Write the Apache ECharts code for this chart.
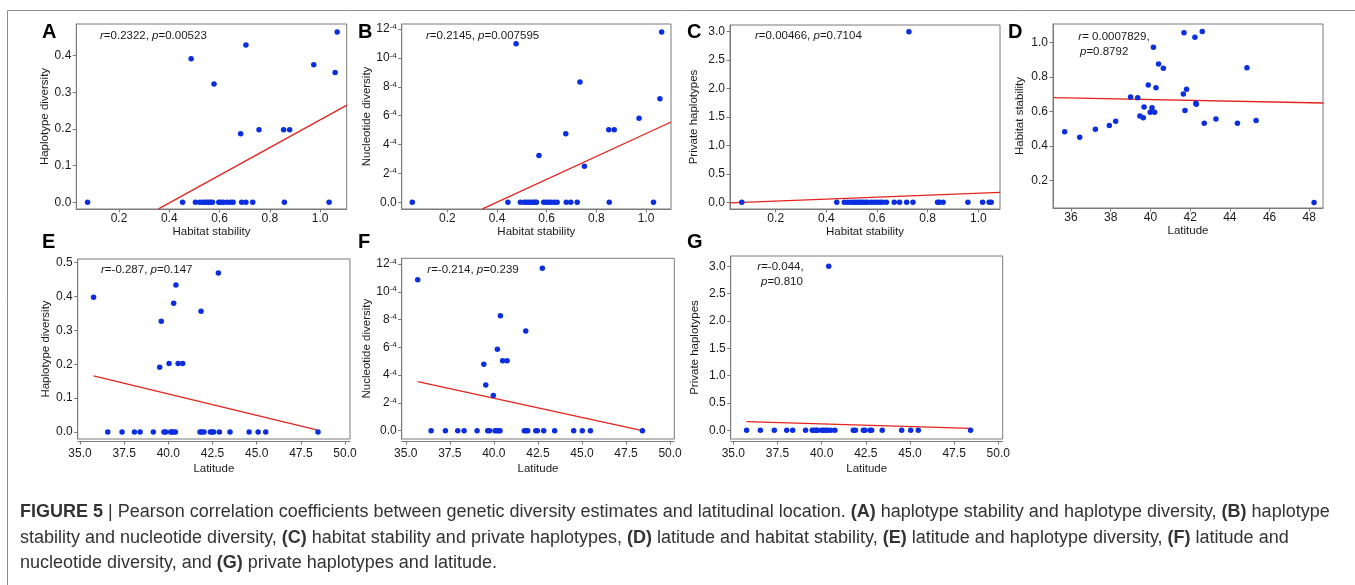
<!DOCTYPE html>
<html>
<head>
<meta charset="utf-8">
<script src="https://cdn.jsdelivr.net/npm/echarts@6/dist/echarts.min.js"></script>
<style>
  html, body { margin: 0; padding: 0; background: #fff; }
  #fig { width: 1355px; height: 585px; }
</style>
</head>
<body>
<div id="fig"></div>
<script>
// A: habitat stability vs haplotype diversity
const stabA = [0.075, 0.453, 0.487, 0.504, 0.521, 0.532, 0.541, 0.549, 0.557, 0.565, 0.572, 0.578, 0.597, 0.605, 0.615, 0.630, 0.644, 0.654, 0.684, 0.688, 0.705, 0.705, 0.732, 0.757, 0.855, 0.858, 0.879, 0.975, 1.036, 1.060, 1.068];
const hdA = [0, 0, 0.392, 0, 0, 0, 0, 0, 0, 0, 0, 0.323, 0, 0, 0, 0, 0, 0, 0.187, 0, 0.429, 0, 0, 0.198, 0.198, 0, 0.198, 0.375, 0, 0.354, 0.465];
const fitA = [[0.357, -0.018], [1.107, 0.265]];

// B: habitat stability vs nucleotide diversity (x 1e-4)
const stabB = [0.059, 0.444, 0.477, 0.494, 0.509, 0.519, 0.528, 0.538, 0.546, 0.554, 0.559, 0.569, 0.588, 0.597, 0.606, 0.618, 0.630, 0.642, 0.677, 0.679, 0.697, 0.723, 0.734, 0.752, 0.850, 0.852, 0.872, 0.972, 1.030, 1.056, 1.063];
const piB = [0, 0, 10.99, 0, 0, 0, 0, 0, 0, 0, 0, 3.25, 0, 0, 0, 0, 0, 0, 4.75, 0, 0, 0, 8.33, 2.49, 5.03, 0, 5.03, 5.82, 0, 7.18, 11.79];
const fitB = [[0.342, -0.46], [1.101, 5.56]];

// C: habitat stability vs private haplotypes
const stabC = [0.066, 0.441, 0.471, 0.484, 0.497, 0.508, 0.517, 0.526, 0.534, 0.543, 0.553, 0.562, 0.576, 0.588, 0.599, 0.612, 0.622, 0.637, 0.668, 0.689, 0.717, 0.726, 0.742, 0.839, 0.846, 0.861, 0.959, 1.017, 1.043, 1.051];
const privC = [0, 0, 0, 0, 0, 0, 0, 0, 0, 0, 0, 0, 0, 0, 0, 0, 0, 0, 0, 0, 0, 3.0, 0, 0, 0, 0, 0, 0, 0, 0];
const fitC = [[0.020, -0.012], [1.086, 0.176]];

// D: latitude vs habitat stability
const latD = [35.68, 36.44, 37.23, 37.93, 38.25, 39.00, 39.36, 39.47, 39.64, 39.68, 39.89, 39.99, 40.08, 40.15, 40.21, 40.28, 40.41, 40.65, 41.66, 41.69, 41.74, 41.82, 42.24, 42.29, 42.31, 42.61, 42.71, 43.30, 44.38, 44.86, 45.32, 48.24];
const stabD = [0.482, 0.449, 0.496, 0.517, 0.542, 0.683, 0.679, 0.573, 0.563, 0.625, 0.753, 0.594, 0.621, 0.971, 0.594, 0.737, 0.874, 0.849, 0.700, 1.056, 0.604, 0.728, 1.029, 0.646, 0.641, 1.062, 0.530, 0.556, 0.530, 0.853, 0.546, 0.071];
const fitD = [[35.11, 0.679], [48.71, 0.648]];

// E: latitude vs haplotype diversity
const latE = [35.77, 36.57, 37.38, 38.08, 38.40, 39.15, 39.51, 39.60, 39.75, 39.85, 40.04, 40.13, 40.21, 40.30, 40.30, 40.40, 40.43, 40.55, 40.81, 41.79, 41.85, 41.89, 42.02, 42.38, 42.47, 42.57, 42.83, 42.89, 43.49, 44.57, 45.08, 45.51, 48.47];
const hdE = [0.398, 0, 0, 0, 0, 0, 0.191, 0.327, 0, 0, 0.202, 0, 0, 0.380, 0, 0, 0.434, 0.202, 0.202, 0, 0.357, 0, 0, 0, 0, 0, 0.470, 0, 0, 0, 0, 0, 0];
const fitE = [[35.77, 0.166], [48.4, 0.006]];

// F: latitude vs nucleotide diversity (x 1e-4)
const latF = [35.68, 36.44, 37.25, 37.95, 38.31, 39.05, 39.43, 39.54, 39.65, 39.76, 39.97, 40.07, 40.16, 40.20, 40.26, 40.35, 40.37, 40.50, 40.75, 41.73, 41.81, 41.83, 41.92, 42.38, 42.47, 42.75, 42.83, 43.45, 44.53, 45.02, 45.48, 48.43];
const piF = [10.87, 0, 0, 0, 0, 0, 4.78, 3.29, 0, 0, 2.54, 0, 0, 5.86, 0, 0, 8.28, 5.04, 5.04, 0, 7.18, 0, 0, 0, 0, 11.69, 0, 0, 0, 0, 0, 0];
const fitF = [[35.68, 3.53], [48.43, 0.0]];

// G: latitude vs private haplotypes
const latG = [35.75, 36.53, 37.32, 38.02, 38.36, 39.09, 39.47, 39.58, 39.70, 39.77, 40.00, 40.11, 40.23, 40.34, 40.40, 40.53, 40.75, 41.79, 41.91, 42.36, 42.45, 42.74, 42.83, 43.43, 44.53, 45.04, 45.47, 48.43];
const privG = [0, 0, 0, 0, 0, 0, 0, 0, 0, 0, 0, 0, 0, 0, 3.0, 0, 0, 0, 0, 0, 0, 0, 0, 0, 0, 0, 0, 0];
const fitG = [[35.75, 0.159], [48.43, 0.037]];

// tick values
const ticksStab = [0.2, 0.4, 0.6, 0.8, 1.0];
const ticksLat5 = [35, 37.5, 40, 42.5, 45, 47.5, 50];
const ticksLatD = [36, 38, 40, 42, 44, 46, 48];
const ticksHdA = [0, 0.1, 0.2, 0.3, 0.4];
const ticksHdE = [0, 0.1, 0.2, 0.3, 0.4, 0.5];
const ticksPi = [0, 2, 4, 6, 8, 10, 12];
const ticksPriv = [0, 0.5, 1.0, 1.5, 2.0, 2.5, 3.0];
const ticksStabD = [0.2, 0.4, 0.6, 0.8, 1.0];

const FONT = "Liberation Sans";
const BOX = "#7a7a7a";
const DOT = "#0a2ee0";
const FIT = "#e3231c";

function zip(xs, ys) {
    return xs.map((x, i) => [x, ys[i]]);
}
const f1 = v => v.toFixed(1);
const f0 = v => String(v);
const fPi = v => (v === 0 ? "0.0" : v + "{s|-4}");

// layout of every panel, in pixels of the figure
const panels = [
    { tag: "A", box: [76.3, 24, 270.4, 185], xr: [0.030, 1.106], yr: [-0.0183, 0.4865],
      xt: ticksStab, yt: ticksHdA, xf: f1, yf: f1, xn: "Habitat stability", yn: "Haplotype diversity",
      yg: 25, xg: 17, pts: zip(stabA, hdA), fit: fitA,
      note: [[100, 36, "{i|r}=0.2322, {i|p}=0.00523"]], lab: [42, 33] },
    { tag: "B", box: [401.7, 24, 269.3, 185], xr: [0.0164, 1.1006], yr: [-0.464, 12.35],
      xt: ticksStab, yt: ticksPi, xf: f1, yf: fPi, xn: "Habitat stability", yn: "Nucleotide diversity",
      yg: 29, xg: 17, pts: zip(stabB, piB), fit: fitB,
      note: [[426, 36, "{i|r}=0.2145, {i|p}=0.007595"]], lab: [358, 33] },
    { tag: "C", box: [730, 25, 270, 184], xr: [0.0195, 1.0857], yr: [-0.118, 3.118],
      xt: ticksStab, yt: ticksPriv, xf: f1, yf: f1, xn: "Habitat stability", yn: "Private haplotypes",
      yg: 30, xg: 17, pts: zip(stabC, privC), fit: fitC,
      note: [[755, 36, "{i|r}=0.00466, {i|p}=0.7104"]], lab: [687, 33] },
    { tag: "D", box: [1053, 24, 270, 184], xr: [35.094, 48.69], yr: [0.0394, 1.106],
      xt: ticksLatD, yt: ticksStabD, xf: f0, yf: f1, xn: "Latitude", yn: "Habitat stability",
      yg: 27, xg: 17, pts: zip(latD, stabD), fit: fitD,
      note: [[1078.3, 36.7, "{i|r}= 0.0007829,"], [1080, 51.7, "{i|p}=0.8792"]], lab: [1008, 33] },
    { tag: "E", box: [77.7, 259, 272.3, 180], xr: [34.87, 50.28], yr: [-0.0207, 0.511],
      xt: ticksLat5, yt: ticksHdE, xf: f1, yf: f1, xn: "Latitude", yn: "Haplotype diversity",
      yg: 26, xg: 22, lm: 6.5, off: 2, pts: zip(latE, hdE), fit: fitE,
      note: [[101, 270, "{i|r}=-0.287, {i|p}=0.147"]], lab: [42, 243] },
    { tag: "F", box: [401.7, 258.3, 272.6, 180.7], xr: [34.77, 50.24], yr: [-0.6, 12.41],
      xt: ticksLat5, yt: ticksPi, xf: f1, yf: fPi, xn: "Latitude", yn: "Nucleotide diversity",
      yg: 29, xg: 22, lm: 6.5, off: 2, pts: zip(latF, piF), fit: fitF,
      note: [[427.3, 270, "{i|r}=-0.214, {i|p}=0.239"]], lab: [358, 243] },
    { tag: "G", box: [730.7, 256, 272, 183], xr: [34.85, 50.25], yr: [-0.159, 3.188],
      xt: ticksLat5, yt: ticksPriv, xf: f1, yf: f1, xn: "Latitude", yn: "Private haplotypes",
      yg: 30, xg: 22, lm: 6.5, off: 2, pts: zip(latG, privG), fit: fitG,
      note: [[757.3, 266.7, "{i|r}=-0.044,"], [761, 281.7, "{i|p}=0.810"]], lab: [687, 243] }
];

const textBase = { fontFamily: FONT, color: "#1a1a1a" };

function build() {
    let grid = [], xAxis = [], yAxis = [], series = [], graphic = [];

    panels.forEach(function (p, k) {
        grid.push({
            left: p.box[0], top: p.box[1], width: p.box[2], height: p.box[3],
            show: true, borderColor: BOX, borderWidth: 1, containLabel: false
        });
        xAxis.push({
            gridIndex: k, type: "value", min: p.xr[0], max: p.xr[1], offset: p.off || 0,
            splitLine: { show: false },
            axisLine: { show: true, onZero: false, lineStyle: { color: BOX, width: 1 } },
            axisTick: { show: true, length: 3.5, customValues: p.xt, lineStyle: { color: BOX } },
            axisLabel: Object.assign({ customValues: p.xt, formatter: p.xf, fontSize: 12, margin: p.lm || 4 }, textBase),
            name: p.xn, nameLocation: "middle", nameGap: p.xg,
            nameTextStyle: Object.assign({ fontSize: 11.5 }, textBase)
        });
        yAxis.push({
            gridIndex: k, type: "value", min: p.yr[0], max: p.yr[1],
            splitLine: { show: false },
            axisLine: { show: true, onZero: false, lineStyle: { color: BOX, width: 1 } },
            axisTick: { show: true, length: 3.5, customValues: p.yt, lineStyle: { color: BOX } },
            axisLabel: Object.assign({
                customValues: p.yt, formatter: p.yf, fontSize: 12, margin: 5,
                rich: { s: { fontSize: 8, verticalAlign: "top", fontFamily: FONT, color: "#1a1a1a", padding: [0, 0, 5, 0] } }
            }, textBase),
            name: p.yn, nameLocation: "middle", nameGap: p.yg,
            nameTextStyle: Object.assign({ fontSize: 11.5 }, textBase)
        });
        series.push({
            type: "scatter", xAxisIndex: k, yAxisIndex: k, data: p.pts,
            symbolSize: 5.5, itemStyle: { color: DOT, opacity: 1 }, silent: true
        });
        series.push({
            type: "line", xAxisIndex: k, yAxisIndex: k, data: p.fit, symbol: "none",
            lineStyle: { color: FIT, width: 1.3 }, clip: true, silent: true, z: 1
        });
        // panel letter
        graphic.push({
            type: "text", left: p.lab[0], top: p.lab[1] - 11,
            style: { text: p.tag, font: "bold 20px " + FONT, fill: "#000" }
        });
        // r / p note
        p.note.forEach(function (n) {
            graphic.push({
                type: "text", x: n[0], y: n[1],
                style: {
                    text: n[2], fontSize: 11.5, fontFamily: FONT, fill: "#1a1a1a",
                    verticalAlign: "middle",
                    rich: { i: { fontStyle: "italic", fontSize: 11.5, fontFamily: FONT, fill: "#1a1a1a" } }
                }
            });
        });
    });

    // outer frame
    graphic.push({ type: "line", shape: { x1: 7.5, y1: 10.5, x2: 1355, y2: 10.5 }, style: { stroke: "#8c8c8c", lineWidth: 1 } });
    graphic.push({ type: "line", shape: { x1: 7.5, y1: 10.5, x2: 7.5, y2: 585 }, style: { stroke: "#8c8c8c", lineWidth: 1 } });

    // caption
    const cap = [
        "{b|FIGURE 5} | Pearson correlation coefficients between genetic diversity estimates and latitudinal location. {b|(A)} haplotype stability and haplotype diversity, {b|(B)} haplotype",
        "stability and nucleotide diversity, {b|(C)} habitat stability and private haplotypes, {b|(D)} latitude and habitat stability, {b|(E)} latitude and haplotype diversity, {b|(F)} latitude and",
        "nucleotide diversity, and {b|(G)} private haplotypes and latitude."
    ];
    const capY = [512.5, 538.5, 563.5];
    cap.forEach(function (t, i) {
        graphic.push({
            type: "text", x: 20, y: capY[i],
            style: {
                text: t, fontSize: 18, fontFamily: FONT, fill: "#333",
                verticalAlign: "middle",
                rich: { b: { fontWeight: "bold", fontSize: 18, fontFamily: FONT, fill: "#333" } }
            }
        });
    });

    return { animation: false, grid: grid, xAxis: xAxis, yAxis: yAxis, series: series, graphic: graphic };
}

let chart = echarts.init(document.getElementById("fig"), null, { renderer: "canvas" });
chart.setOption(build());
</script>
</body>
</html>
